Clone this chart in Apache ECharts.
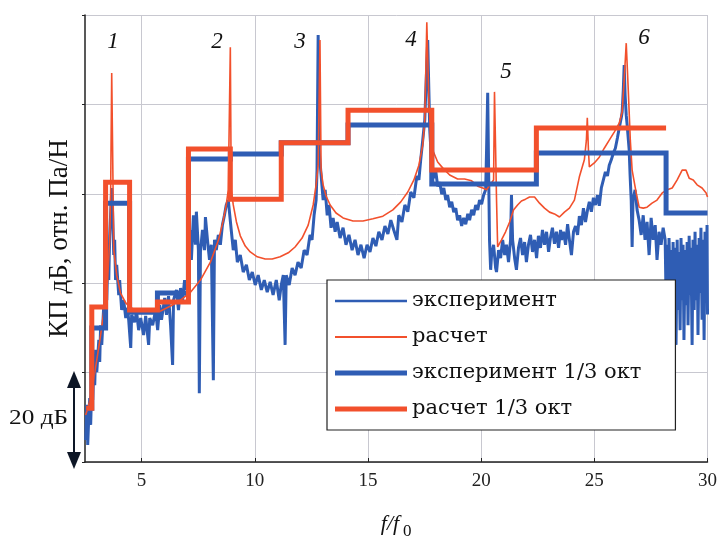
<!DOCTYPE html>
<html>
<head>
<meta charset="utf-8">
<script src="https://cdn.jsdelivr.net/npm/echarts@6/dist/echarts.min.js"></script>
<style>
html, body { margin: 0; padding: 0; background: #fff; }
#chart { width: 720px; height: 542px; }
</style>
</head>
<body>
<div id="chart"></div>
<script>
const xTicks = [5, 10, 15, 20, 25, 30]

// 1/3 octave band edges (f/f0) and band levels, dB
const bandEdges = [2.55, 2.80, 3.41, 4.47, 5.70, 7.07, 8.92, 11.17, 14.12, 17.82, 22.44, 28.17, 30.0]
const expOct = [12.0, 30.0, 57.9, 33.5, 37.8, 67.8, 68.9, 71.4, 75.4, 62.2, 69.1, 55.7]
const calcOct = [12.0, 34.7, 62.6, 34.0, 35.8, 70.0, 58.8, 71.4, 78.7, 65.3, 74.7]

// narrow band spectra [f/f0, dB]
const calcCurve = [
  [2.53, 10.5], [2.67, 12.8], [2.84, 17.2], [3.02, 22.8], [3.19, 28.4], [3.37, 35.1], [3.50, 40.7],
  [3.59, 49.7], [3.63, 58.6], [3.68, 87.0], [3.72, 69.8], [3.77, 47.4], [3.90, 41.8], [4.07, 37.8],
  [4.30, 35.6], [4.52, 34.5], [4.96, 33.6], [5.40, 33.3], [5.84, 33.8], [6.28, 34.9], [6.72, 36.2],
  [7.16, 38.0], [7.60, 40.7], [8.04, 44.7], [8.40, 49.7], [8.61, 54.1], [8.74, 57.5], [8.83, 60.9],
  [8.92, 92.8], [8.96, 60.9], [9.05, 57.5], [9.19, 53.7], [9.36, 50.6], [9.58, 48.3], [9.80, 47.0],
  [10.11, 45.9], [10.46, 45.4], [10.77, 45.4], [11.12, 45.9], [11.48, 46.8], [11.78, 48.1], [12.09, 50.1],
  [12.36, 53.0], [12.58, 57.5], [12.71, 62.0], [12.80, 66.4], [12.88, 94.4], [12.93, 65.3], [13.02, 62.0],
  [13.15, 59.5], [13.33, 57.5], [13.59, 55.7], [13.90, 54.6], [14.34, 53.9], [14.78, 53.9], [15.22, 54.4],
  [15.66, 55.0], [16.10, 56.4], [16.45, 58.2], [16.76, 60.4], [17.03, 63.1], [17.25, 66.4], [17.42, 70.9],
  [17.51, 76.5], [17.60, 98.4], [17.69, 81.0], [17.78, 72.0], [17.86, 69.8], [18.08, 67.1], [18.30, 65.8],
  [18.61, 64.2], [18.96, 63.3], [19.27, 63.3], [19.58, 62.9], [19.85, 61.7], [20.07, 61.3], [20.24, 60.9],
  [20.55, 63.1], [20.59, 82.8], [20.64, 69.8], [20.68, 58.6], [20.73, 48.1], [20.90, 49.7], [21.08, 51.5],
  [21.26, 53.7], [21.43, 56.4], [21.61, 57.5], [21.78, 58.4], [21.96, 58.8], [22.14, 59.3], [22.36, 59.3],
  [22.58, 57.9], [22.80, 56.8], [23.02, 55.9], [23.24, 55.5], [23.46, 54.8], [23.68, 55.9], [23.90, 56.8],
  [24.12, 58.6], [24.34, 63.8], [24.56, 67.6], [24.65, 72.0], [24.69, 77.0], [24.74, 69.8], [24.78, 66.0],
  [25.00, 66.9], [25.22, 68.2], [25.44, 70.2], [25.66, 72.0], [25.88, 73.8], [26.10, 75.8], [26.23, 78.3],
  [26.32, 85.5], [26.41, 93.7], [26.50, 83.2], [26.59, 72.0], [26.67, 65.3], [26.85, 60.2], [26.98, 57.0],
  [27.16, 56.8], [27.33, 57.0], [27.55, 57.9], [27.77, 58.6], [28.00, 60.2], [28.22, 60.9], [28.44, 61.3],
  [28.66, 63.1], [28.88, 65.3], [29.05, 65.3], [29.19, 63.5], [29.37, 63.1], [29.54, 62.0], [29.76, 61.3],
  [29.94, 60.2], [30.0, 59.3]
]

const expCurve = [
  [2.53, 4.9], [2.58, 12.8], [2.62, 3.8], [2.67, 10.5], [2.71, 14.3], [2.75, 8.3], [2.80, 17.2], [2.84, 13.9],
  [2.89, 21.7], [2.93, 17.2], [2.97, 25.1], [3.02, 20.1], [3.11, 27.3], [3.15, 22.4], [3.19, 30.6], [3.24, 26.2],
  [3.33, 35.1], [3.37, 30.6], [3.41, 38.5], [3.46, 36.2], [3.50, 44.1], [3.55, 40.7], [3.59, 50.6], [3.63, 55.2],
  [3.68, 61.3], [3.72, 55.7], [3.77, 46.3], [3.81, 49.7], [3.85, 40.7], [3.90, 44.1], [3.99, 37.3], [4.03, 40.7],
  [4.12, 34.0], [4.21, 36.2], [4.30, 32.2], [4.38, 34.5],
  [4.43, 31.8], [4.52, 25.5], [4.56, 32.9], [4.69, 31.3], [4.78, 33.6], [4.87, 29.5], [4.96, 32.2], [5.09, 28.4],
  [5.18, 32.7], [5.31, 26.2], [5.36, 32.2], [5.49, 30.6], [5.62, 34.0], [5.71, 29.5], [5.80, 35.1], [5.88, 31.8],
  [6.02, 36.7], [6.10, 32.9], [6.19, 37.1], [6.28, 30.6], [6.37, 21.7], [6.41, 36.2], [6.54, 38.5], [6.63, 34.0],
  [6.72, 38.9], [6.81, 36.2], [6.90, 40.7], [6.98, 38.5],
  [7.07, 42.9], [7.16, 51.9], [7.20, 45.2], [7.29, 55.2], [7.38, 48.6], [7.42, 56.0], [7.51, 47.4], [7.55, 15.4],
  [7.60, 47.0], [7.69, 51.9], [7.78, 47.4], [7.82, 54.8], [7.91, 49.7], [8.00, 45.2], [8.08, 48.6], [8.17, 18.3],
  [8.22, 49.7], [8.30, 47.4], [8.39, 50.8], [8.48, 48.6], [8.57, 53.0], [8.66, 55.2], [8.74, 57.5], [8.83, 58.6],
  [8.88, 56.0],
  [8.96, 51.9], [9.05, 47.4], [9.14, 49.7], [9.23, 44.7], [9.36, 46.3], [9.49, 42.5], [9.63, 44.1], [9.76, 40.7],
  [9.89, 42.5], [10.02, 39.6], [10.15, 41.8], [10.29, 38.5], [10.42, 40.7], [10.55, 38.0], [10.68, 40.3],
  [10.81, 37.4], [10.95, 40.7], [11.08, 36.2], [11.17, 39.6], [11.26, 41.8], [11.34, 26.2], [11.39, 41.8],
  [11.52, 39.6], [11.65, 43.4], [11.78, 41.8], [11.91, 44.7], [12.05, 43.4], [12.18, 47.4], [12.31, 46.3],
  [12.44, 50.8], [12.53, 49.7], [12.62, 55.2], [12.71, 58.6], [12.75, 65.3], [12.80, 95.5], [12.84, 69.8],
  [12.93, 64.2], [13.02, 58.6], [13.11, 60.9], [13.20, 55.2], [13.28, 57.5], [13.37, 52.4], [13.46, 54.6],
  [13.55, 51.5], [13.64, 53.7], [13.77, 50.1], [13.90, 52.4], [14.03, 48.6], [14.16, 50.8], [14.30, 47.4],
  [14.43, 49.7], [14.56, 46.3], [14.69, 48.6], [14.83, 45.6], [14.96, 48.6], [15.09, 47.0], [15.22, 50.1],
  [15.35, 48.3], [15.48, 51.5], [15.62, 49.7], [15.75, 52.8], [15.88, 51.0], [16.01, 54.1], [16.14, 51.9],
  [16.28, 49.7], [16.36, 55.2], [16.50, 53.7], [16.63, 57.5], [16.76, 56.0], [16.89, 60.4], [17.03, 59.1],
  [17.16, 64.0], [17.25, 63.1], [17.33, 67.6], [17.42, 72.0], [17.51, 76.5], [17.55, 82.1], [17.64, 94.4],
  [17.69, 83.2], [17.73, 74.3],
  [17.82, 66.4], [17.91, 63.5], [18.00, 64.9], [18.08, 61.7], [18.17, 62.6], [18.26, 59.9], [18.35, 61.3],
  [18.44, 58.6], [18.52, 59.7], [18.61, 57.0], [18.70, 58.2], [18.79, 55.9], [18.88, 56.8], [18.96, 54.1],
  [19.05, 55.2], [19.14, 52.8], [19.23, 54.6], [19.32, 53.2], [19.41, 55.5], [19.49, 54.1], [19.58, 56.4],
  [19.67, 55.2], [19.76, 57.5], [19.85, 56.4], [19.93, 58.6], [20.02, 57.7], [20.11, 59.7], [20.20, 60.9],
  [20.24, 69.8], [20.29, 82.6], [20.33, 65.3], [20.37, 49.7], [20.42, 43.0],
  [20.46, 46.3], [20.55, 48.6], [20.64, 43.4], [20.68, 42.5], [20.77, 47.4], [20.86, 45.6], [20.95, 49.7],
  [21.04, 46.3], [21.12, 48.6], [21.21, 44.7], [21.30, 49.7], [21.34, 59.7], [21.39, 49.7], [21.48, 45.6],
  [21.56, 43.0], [21.65, 47.9], [21.74, 50.1], [21.83, 46.3], [21.92, 49.2], [22.00, 44.7], [22.09, 48.6],
  [22.18, 50.8], [22.27, 47.0], [22.36, 49.7], [22.45, 45.6], [22.53, 50.6], [22.62, 47.9], [22.71, 51.9],
  [22.80, 48.6], [22.89, 51.5], [22.98, 47.0], [23.06, 50.1], [23.15, 52.4], [23.24, 48.8], [23.33, 51.5],
  [23.42, 47.9], [23.51, 51.9],
  [23.55, 49.7], [23.64, 51.5], [23.73, 48.6], [23.82, 53.2], [23.90, 49.7], [23.99, 46.3], [24.08, 51.5],
  [24.17, 52.8], [24.26, 50.8], [24.34, 55.0], [24.43, 53.0], [24.52, 56.8], [24.61, 53.7], [24.70, 56.4],
  [24.78, 58.2], [24.87, 56.0], [24.96, 59.1], [25.05, 57.5], [25.14, 59.7], [25.22, 57.3], [25.31, 61.3],
  [25.40, 63.1], [25.49, 64.9], [25.58, 64.0], [25.66, 66.4], [25.75, 67.6], [25.84, 69.1], [25.93, 70.2],
  [26.02, 72.5], [26.10, 74.7], [26.19, 77.0], [26.23, 78.3], [26.28, 83.2], [26.32, 88.8], [26.36, 82.1],
  [26.41, 77.6], [26.45, 75.4], [26.54, 69.8], [26.58, 64.2], [26.63, 58.6], [26.67, 48.1], [26.71, 58.6],
  [26.80, 60.9], [26.89, 56.4], [26.98, 54.1], [27.07, 50.8], [27.16, 55.2], [27.24, 49.7], [27.33, 53.7],
  [27.42, 46.3], [27.51, 54.6], [27.60, 49.7], [27.69, 53.0], [27.77, 45.2], [27.86, 51.5], [27.95, 48.6],
  [28.04, 52.4],
  [28.13, 49.7], [28.17, 36.2], [28.22, 48.6], [28.26, 31.8], [28.30, 50.1], [28.35, 38.5], [28.39, 47.4],
  [28.44, 28.4], [28.48, 49.2], [28.52, 36.2], [28.57, 47.9], [28.61, 26.2], [28.66, 49.7], [28.70, 34.0],
  [28.74, 47.0], [28.79, 29.5], [28.83, 50.1], [28.88, 36.2], [28.92, 48.6], [28.96, 27.3], [29.01, 47.4],
  [29.05, 35.1], [29.10, 49.2], [29.14, 30.6], [29.19, 50.6], [29.23, 37.4], [29.27, 47.9], [29.32, 26.2],
  [29.36, 49.7], [29.41, 34.0], [29.45, 51.5], [29.49, 36.2], [29.54, 48.6], [29.58, 28.4], [29.63, 50.1],
  [29.67, 37.8], [29.71, 52.4], [29.76, 31.8], [29.80, 49.7], [29.85, 27.3], [29.89, 51.5], [29.93, 36.2],
  [29.98, 53.0], [30.0, 33.0]
]

const peakNames = ['1', '2', '3', '4', '5', '6']

const serif = '"Liberation Serif", "DejaVu Serif", serif'
const wideSerif = '"DejaVu Serif", serif'
const blue = '#2f5db4'
const red = '#f2502c'

function steps(levels) {
  const out = []
  levels.forEach((v, i) => {
    out.push([bandEdges[i], v])
    out.push([bandEdges[i + 1], v])
  })
  return out
}

function bar(h) {
  return 'path://M0,0H72V' + h + 'H0Z'
}

const chart = echarts.init(document.getElementById('chart'))

// peak number positions (px)
const peakPos = [[113, 42], [217, 42], [300, 42], [411, 40], [506, 72], [644, 38]]

const option = {
  backgroundColor: '#fff',
  animation: false,
  grid: {
    left: 85,
    right: 9,
    top: 15,
    bottom: 80
  },
  legend: {
    orient: 'vertical',
    left: 327,
    top: 280,
    itemWidth: 72,
    itemHeight: 14,
    itemGap: 10,
    padding: [8, 34, 8, 8],
    backgroundColor: '#fff',
    borderColor: '#222',
    borderWidth: 1.2,
    borderRadius: 0,
    textStyle: {
      fontFamily: wideSerif,
      fontSize: 21,
      color: '#111',
      lineHeight: 26
    },
    data: [
      { name: 'эксперимент', icon: bar(2.5) },
      { name: 'расчет', icon: bar(2) },
      { name: 'эксперимент 1/3 окт', icon: bar(5) },
      { name: 'расчет 1/3 окт', icon: bar(5) }
    ]
  },
  xAxis: {
    type: 'value',
    min: 2.5,
    max: 30,
    axisLine: {
      show: true,
      lineStyle: { color: '#222', width: 1.5 }
    },
    axisTick: {
      show: true,
      inside: true,
      length: 4,
      customValues: xTicks,
      lineStyle: { color: '#222' }
    },
    axisLabel: {
      customValues: xTicks,
      margin: 10,
      fontSize: 19,
      fontFamily: 'Liberation Serif',
      color: '#222'
    },
    splitLine: {
      show: true,
      lineStyle: { color: '#c8c8d0', width: 1 }
    }
  },
  yAxis: {
    type: 'value',
    min: 0,
    max: 100,
    interval: 20,
    name: 'КП дБ, отн. Па/Н',
    nameLocation: 'middle',
    nameGap: 12,
    nameTextStyle: {
      fontFamily: 'Liberation Serif',
      fontSize: 27,
      color: '#111'
    },
    axisLine: {
      show: true,
      lineStyle: { color: '#222', width: 1.5 }
    },
    axisTick: {
      show: true,
      length: 3,
      lineStyle: { color: '#222' }
    },
    axisLabel: { show: false },
    splitLine: {
      lineStyle: { color: '#c8c8d0', width: 1 }
    }
  },
  series: [
    {
      name: 'эксперимент',
      type: 'line',
      symbol: 'none',
      z: 1,
      color: blue,
      lineStyle: { width: 3, color: blue },
      data: expCurve
    },
    {
      name: 'расчет',
      type: 'line',
      symbol: 'none',
      z: 2,
      color: red,
      lineStyle: { width: 1.6, color: red },
      data: calcCurve
    },
    {
      name: 'эксперимент 1/3 окт',
      type: 'line',
      symbol: 'none',
      z: 3,
      color: blue,
      lineStyle: { width: 5, color: blue, join: 'miter' },
      data: steps(expOct)
    },
    {
      name: 'расчет 1/3 окт',
      type: 'line',
      symbol: 'none',
      z: 4,
      color: red,
      lineStyle: { width: 5, color: red, join: 'miter' },
      data: steps(calcOct)
    }
  ],
  graphic: [
    ...peakNames.map((t, i) => ({
      type: 'text',
      x: peakPos[i][0],
      y: peakPos[i][1],
      style: {
        text: t,
        fontFamily: serif,
        fontStyle: 'italic',
        fontSize: 23,
        fill: '#111',
        align: 'center',
        verticalAlign: 'middle'
      }
    })),
    {
      type: 'text',
      x: 9,
      y: 418,
      scaleX: 1.15,
      style: {
        text: '20 дБ',
        fontFamily: serif,
        fontSize: 22,
        fill: '#111',
        verticalAlign: 'middle'
      }
    },
    {
      type: 'line',
      shape: { x1: 74, y1: 384, x2: 74, y2: 456 },
      style: { stroke: '#0d1626', lineWidth: 2 }
    },
    {
      type: 'polygon',
      shape: { points: [[74, 371], [67, 388], [81, 388]] },
      style: { fill: '#0d1626' }
    },
    {
      type: 'polygon',
      shape: { points: [[74, 469], [67, 452], [81, 452]] },
      style: { fill: '#0d1626' }
    },
    {
      type: 'text',
      x: 390,
      y: 524,
      style: {
        text: 'f/f',
        fontFamily: serif,
        fontStyle: 'italic',
        fontSize: 22,
        fill: '#111',
        align: 'center',
        verticalAlign: 'middle'
      }
    },
    {
      type: 'text',
      x: 403,
      y: 532,
      style: {
        text: '0',
        fontFamily: serif,
        fontSize: 17,
        fill: '#111',
        verticalAlign: 'middle'
      }
    }
  ]
}

chart.setOption(option)
</script>
</body>
</html>
